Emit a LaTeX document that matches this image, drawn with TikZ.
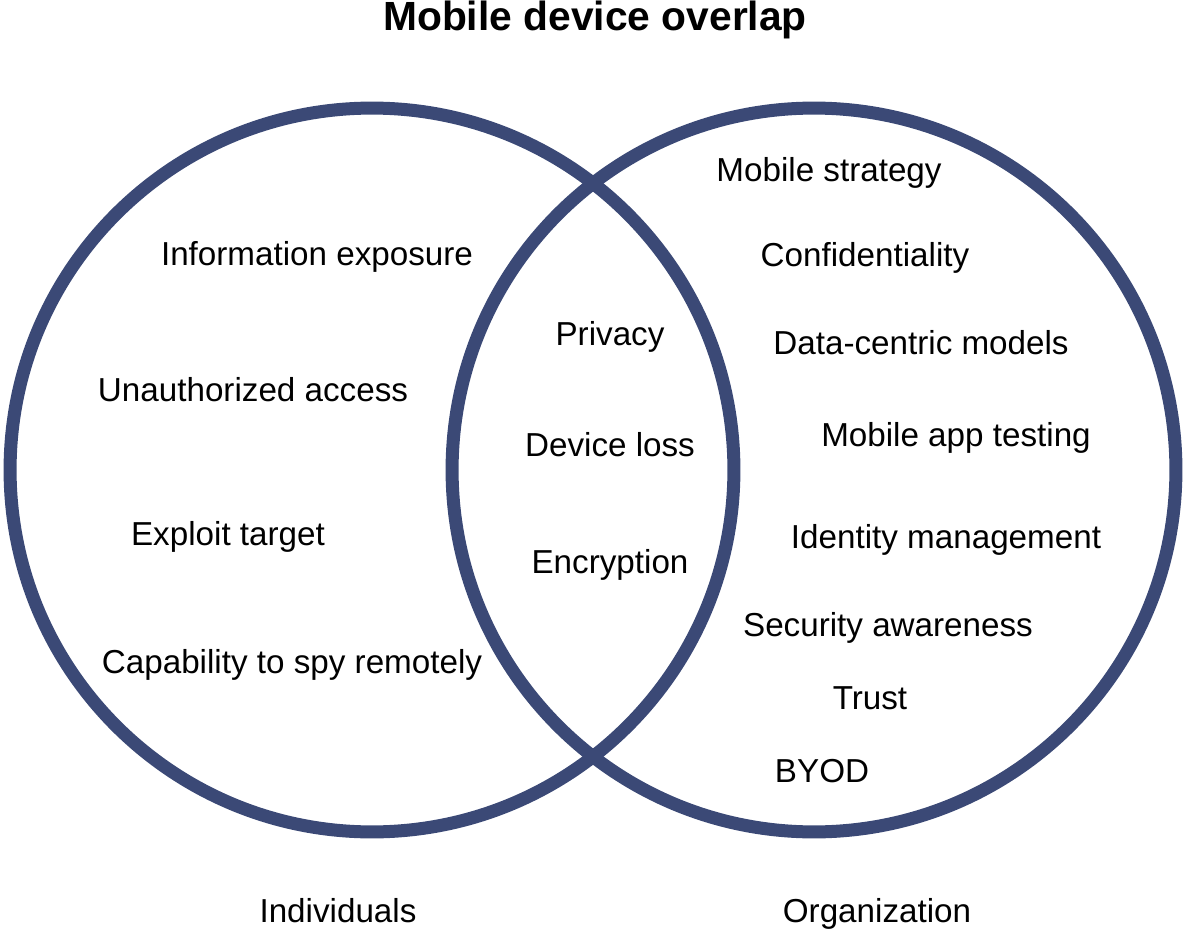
\documentclass[tikz,border=0pt]{standalone}
\usepackage{fontspec}
\setmainfont{Liberation Sans}
\usepackage{xcolor}
\definecolor{ringblue}{RGB}{59,73,118}

\begin{document}
\begin{tikzpicture}[x=0.02cm,y=-0.02cm,
    ring/.style={draw=ringblue,line width=7.4pt},
    lbl/.style={anchor=base,font=\fontsize{18.9}{22}\selectfont},
    ttl/.style={anchor=base,font=\bfseries\fontsize{23.2}{28}\selectfont}]

        \useasboundingbox (0,0) rectangle (1190,929);

        \coordinate (cl) at (372,470);
        \coordinate (cr) at (814,470);

        \draw[ring] (cl) circle[radius=7.24cm];
        \draw[ring] (cr) circle[radius=7.24cm];

        % Title
        \node[ttl] (title) at (595,31) {Mobile device overlap};

        % Individuals only
        \foreach \x/\y/\t [count=\i] in {317/266/Information exposure,
                                        253/401/Unauthorized access,
                                        228/545/Exploit target,
                                        292/673/Capability to spy remotely}{
            \node[lbl] (l\i) at (\x,\y) {\t};
        }

        % Overlap
        \foreach \x/\y/\t [count=\i] in {610/345/Privacy,
                                        610/456/Device loss,
                                        610/573/Encryption}{
            \node[lbl] (m\i) at (\x,\y) {\t};
        }

        % Organization only
        \foreach \x/\y/\t [count=\i] in {829/182/Mobile strategy,
                                        865/267/Confidentiality,
                                        921/354/Data-centric models,
                                        956/446/Mobile app testing,
                                        946/548/Identity management,
                                        888/636/Security awareness,
                                        870/709/Trust,
                                        822/782/BYOD}{
            \node[lbl] (r\i) at (\x,\y) {\t};
        }

        % Set names
        \node[lbl] (ind) at (338,922) {Individuals};
        \node[lbl] (org) at (877,922) {Organization};

\end{tikzpicture}
\end{document}
